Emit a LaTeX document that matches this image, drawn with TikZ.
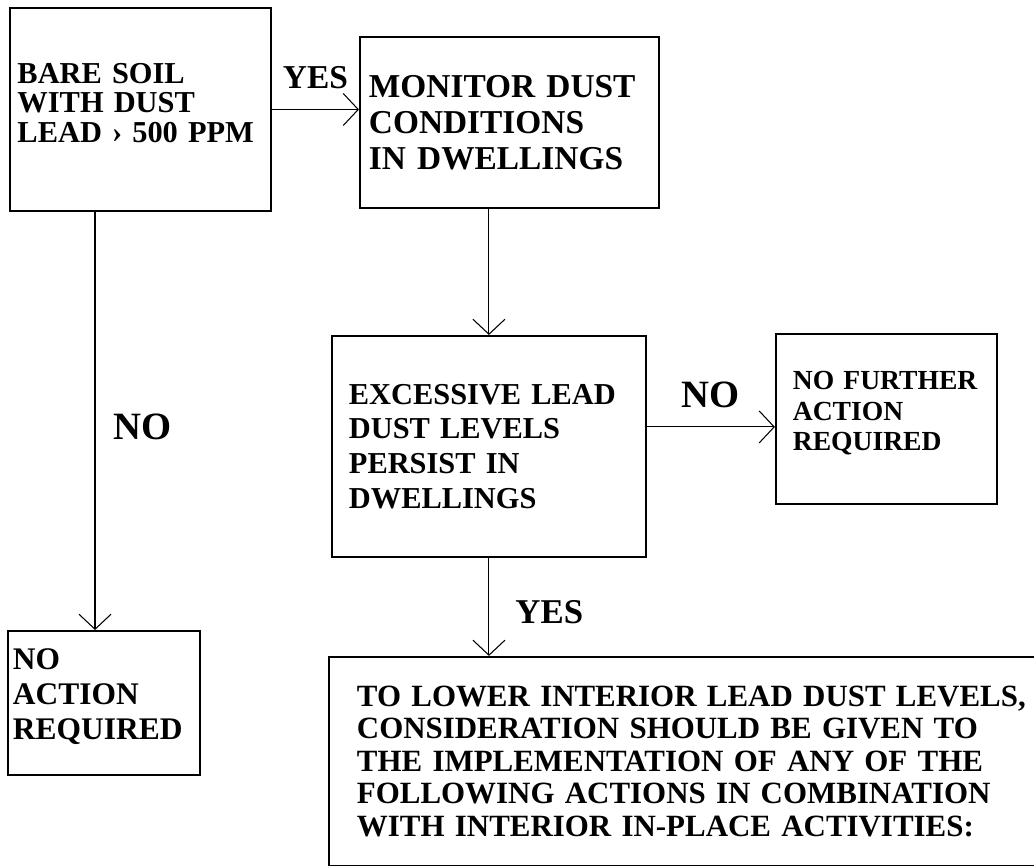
\documentclass[tikz,border=0pt]{standalone}
\usepackage{fontspec}
\setmainfont{Liberation Serif}
\usepackage{tikz}
\usetikzlibrary{arrows.meta, positioning}

\begin{document}
\begin{tikzpicture}[
    every node/.style={font=\bfseries},
    box/.style={rectangle, draw=black, line width=1.1pt, align=left, inner ysep=0pt},
    arrow/.style={-{Straight Barb[length=0.3cm, width=0.64cm]}, line width=0.6pt},
    choice/.style={font=\bfseries\fontsize{19}{21}\selectfont, inner sep=0pt},
    bigchoice/.style={font=\bfseries\fontsize{22}{24}\selectfont, inner sep=0pt},
]
\useasboundingbox (0,0) rectangle (20.68,-17.3);

\node[box, text width=4.92cm, inner xsep=0.15cm, minimum height=4.06cm,
      font=\bfseries\fontsize{17.3}{16.6}\selectfont] (soil) at (2.81,-2.19)
      {BARE SOIL\\WITH DUST\\LEAD › 500 PPM\\[-9pt]\mbox{}};
\node[box, text width=5.62cm, inner xsep=0.18cm, minimum height=3.42cm,
      font=\bfseries\fontsize{19}{20.4}\selectfont,
      right=1.74cm of soil, yshift=-0.26cm] (monitor)
      {MONITOR DUST\\CONDITIONS\\IN DWELLINGS};
\node[box, text width=5.6cm, inner xsep=0.34cm, minimum height=4.42cm,
      font=\bfseries\fontsize{17.3}{19.8}\selectfont,
      below=2.52cm of monitor, xshift=-0.41cm] (excess)
      {EXCESSIVE LEAD\\DUST LEVELS\\PERSIST IN\\DWELLINGS};
\node[box, text width=3.74cm, inner xsep=0.34cm, minimum height=3.4cm,
      font=\bfseries\fontsize{15.7}{17.3}\selectfont,
      right=2.56cm of excess, yshift=0.55cm] (further)
      {NO FURTHER\\ACTION\\REQUIRED\\[-8.2pt]\mbox{}};
\node[box, text width=13.7cm, inner xsep=0.56cm, minimum height=4.18cm,
      font=\bfseries\fontsize{17.6}{18.5}\selectfont,
      below=1.96cm of excess, xshift=4.21cm] (lower)
      {TO LOWER INTERIOR LEAD DUST LEVELS,\\CONSIDERATION SHOULD BE GIVEN TO\\THE IMPLEMENTATION OF ANY OF THE\\FOLLOWING ACTIONS IN COMBINATION\\WITH INTERIOR IN-PLACE ACTIVITIES:};
\node[box, text width=3.64cm, inner xsep=0.1cm, minimum height=2.88cm,
      font=\bfseries\fontsize{17.9}{19.8}\selectfont,
      below=8.36cm of soil, xshift=-0.73cm] (noaction)
      {NO\\ACTION\\REQUIRED\\[-9.6pt]\mbox{}};

\coordinate (nofoot) at ([yshift=-0.16cm]further.west);
\coordinate (nohead) at ([xshift=-0.18cm]noaction.north);

\draw[arrow] (soil.east) -- (soil.east -| monitor.west)
    node[midway, above=0.4cm, choice] (yes1) {YES};
\draw[arrow] (monitor.south -| excess.north) -- (excess.north);
\draw[arrow] (excess.east |- nofoot) -- (nofoot)
    node[midway, above=0.38cm, bigchoice] (no1) {NO};
\draw[arrow] (excess.south) -- (excess.south |- lower.north)
    node[midway, right=0.52cm, yshift=-0.1cm, choice, font=\bfseries\fontsize{19.8}{21}\selectfont] (yes2) {YES};
\draw[arrow] (nohead |- soil.south) -- (nohead)
    node[midway, right=0.36cm, yshift=-0.12cm, bigchoice] (no2) {NO};
\end{tikzpicture}
\end{document}
